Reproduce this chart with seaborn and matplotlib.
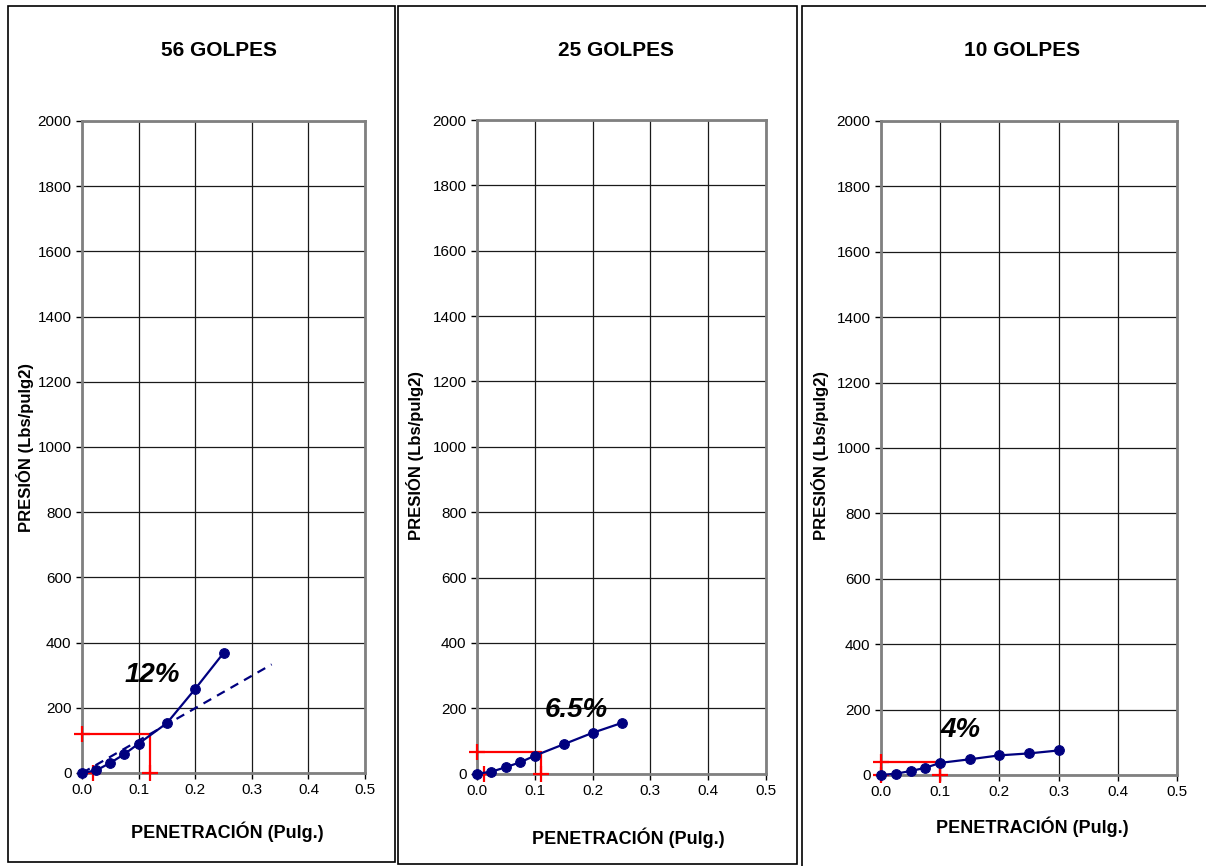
import numpy as np
import pandas as pd
import matplotlib.pyplot as plt
import seaborn as sns
from matplotlib.patches import Rectangle

# data
titles = ['56 GOLPES', '25 GOLPES', '10 GOLPES']

pen_56 = [0.0, 0.025, 0.05, 0.075, 0.1, 0.15, 0.2, 0.25]
pres_56 = [0, 8, 31, 58, 90, 153, 258, 368]
pen_25 = [0.0, 0.025, 0.05, 0.075, 0.1, 0.15, 0.2, 0.25]
pres_25 = [0, 6, 20, 35, 55, 90, 125, 155]
pen_10 = [0.0, 0.025, 0.05, 0.075, 0.1, 0.15, 0.2, 0.25, 0.3]
pres_10 = [0, 4, 12, 22, 37, 48, 60, 66, 75]

# dashed correction line (56 golpes only)
corr_x = [0.0, 0.335]
corr_y = [0, 333]

# red guide lines: corner (x, y) and corrected origin
corner_x = [0.12, 0.11, 0.10]
corner_y = [120, 65, 39]
origin_x = [0.02, 0.0115, 0.0]

cbr_labels = ['12%', '6.5%', '4%']
cbr_pos = [(0.1235, 300), (0.172, 194), (0.135, 138)]

y_ticks = list(range(0, 2001, 200))
x_ticks = [0.0, 0.1, 0.2, 0.3, 0.4, 0.5]

sns.set_style('white')
plt.rcParams['font.family'] = ['Liberation Sans', 'DejaVu Sans']
plt.rcParams['text.color'] = 'black'

fig = plt.figure(figsize=(12.06, 8.66), dpi=100)

# axes boxes (figure fractions) and panel frames
ax_boxes = [[0.068, 0.1074, 0.2347, 0.7529],
            [0.3955, 0.1066, 0.2397, 0.7548],
            [0.7305, 0.1051, 0.2455, 0.7552]]
frames = [[0.0066, 0.0046, 0.3209, 0.9885],
          [0.33, 0.0023, 0.3308, 0.9908],
          [0.665, -0.01, 0.40, 1.003]]
title_pos = [(219, 51), (616, 50), (1022, 51)]
xlabel_pos = [(227, 832), (628, 838), (1032, 827)]
ylabel_pos = [(25, 448), (415, 455), (820, 456)]

series = [(pen_56, pres_56), (pen_25, pres_25), (pen_10, pres_10)]
navy = '#00007f'

for fr in frames:
    fig.patches.append(Rectangle((fr[0], fr[1]), fr[2], fr[3], transform=fig.transFigure,
                                 fill=False, edgecolor='black', lw=1.2))

for i in range(3):
    ax = fig.add_axes(ax_boxes[i])
    px, py = series[i]
    df = pd.DataFrame({'pen': px, 'pres': py})

    # red guide lines
    cx, cy = corner_x[i], corner_y[i]
    ax.plot([0, cx], [cy, cy], color='red', lw=1.6, zorder=3, clip_on=False)
    ax.plot([cx, cx], [0, cy], color='red', lw=1.6, zorder=3, clip_on=False)
    ax.plot([0, cx, origin_x[i]], [cy, 0, 0], ls='none', marker='+', ms=11, mew=1.6,
            color='red', zorder=3, clip_on=False)

    sns.lineplot(data=df, x='pen', y='pres', marker='o', markersize=7, markeredgecolor=navy,
                 color=navy, lw=1.6, estimator=None, sort=False, ax=ax, zorder=4)
    if i == 0:
        ax.plot(corr_x, corr_y, ls=(0, (4, 3)), color=navy, lw=1.6, zorder=4)
    for ln in ax.lines:
        ln.set_clip_on(False)

    tx, ty = cbr_pos[i]
    ax.text(tx, ty, cbr_labels[i], ha='center', va='center', fontsize=20,
            fontweight='bold', fontstyle='italic', color='black', zorder=5)

    ax.set_xlim(0, 0.5)
    ax.set_ylim(0, 2000)
    ax.set_xticks(x_ticks)
    ax.set_xticklabels([f'{v:.1f}' for v in x_ticks])
    ax.set_yticks(y_ticks)
    ax.grid(True, color='#1a1a1a', lw=0.9)
    ax.set_axisbelow(True)
    for s in ax.spines.values():
        s.set_color('#808080')
        s.set_linewidth(2)
    ax.tick_params(axis='both', labelsize=11, colors='black', length=4, width=1,
                   direction='out', left=True, bottom=True)
    ax.set_xlabel('')
    ax.set_ylabel('')

    fig.text(title_pos[i][0] / 1206, 1 - title_pos[i][1] / 866, titles[i], ha='center',
             va='center', fontsize=15, fontweight='bold', color='black')
    fig.text(xlabel_pos[i][0] / 1206, 1 - xlabel_pos[i][1] / 866, 'PENETRACIÓN (Pulg.)',
             ha='center', va='center', fontsize=13, fontweight='bold', color='black')
    fig.text(ylabel_pos[i][0] / 1206, 1 - ylabel_pos[i][1] / 866, 'PRESIÓN (Lbs/pulg2)',
             ha='center', va='center', rotation=90, fontsize=12, fontweight='bold',
             color='black')

fig.savefig('out.png', dpi=100)
